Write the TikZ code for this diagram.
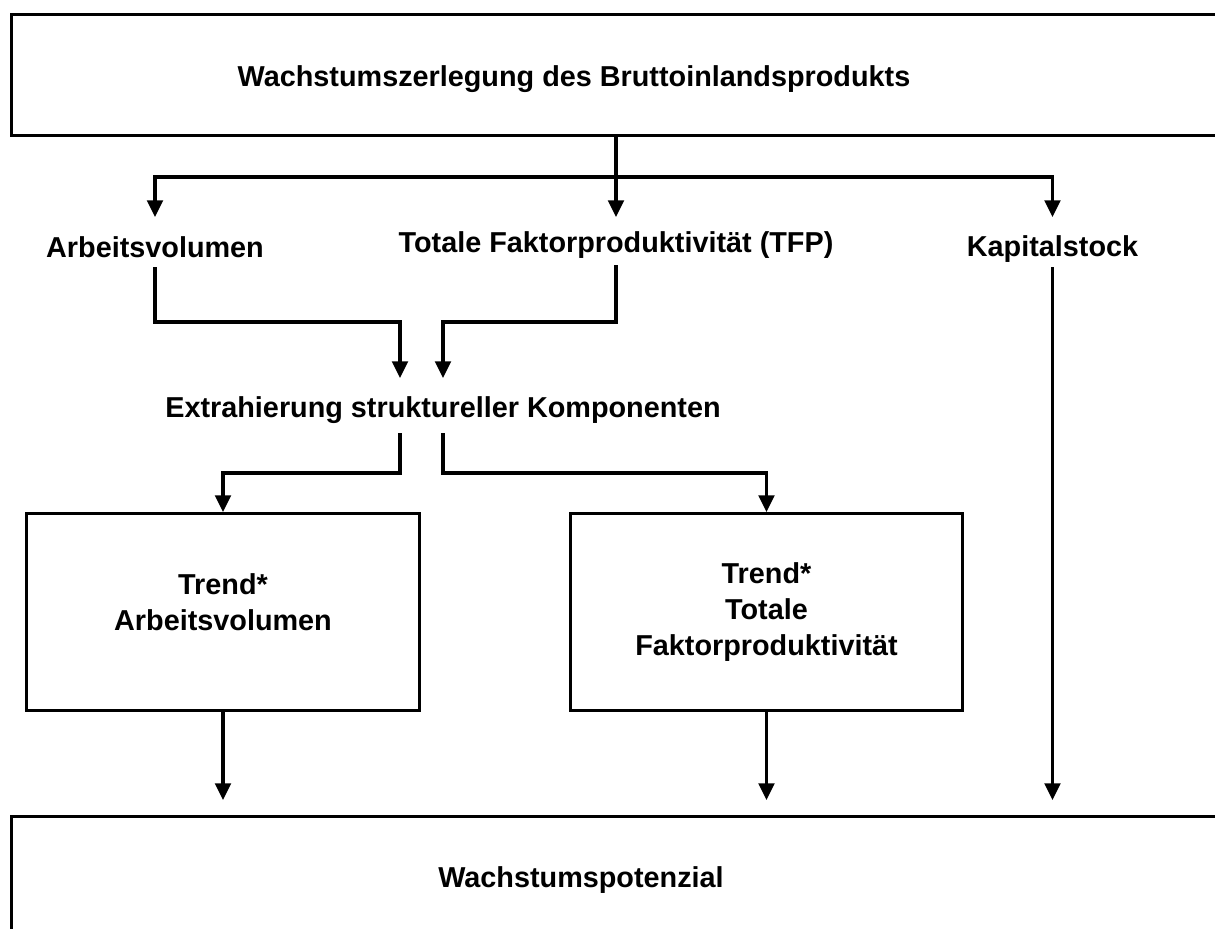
\documentclass[tikz,border=0pt]{standalone}
\usepackage{fontspec}
\setmainfont{Liberation Sans}
\usepackage{tikz}
\usetikzlibrary{arrows.meta, positioning, calc}

\begin{document}
\begin{tikzpicture}[
    x=0.5pt, y=-0.5pt,
    >={Triangle[length=8.3pt, width=7.8pt]},
    panel/.style={rectangle, draw=black, line width=1.5pt, anchor=north west,
                  align=center, font=\bfseries\fontsize{14.4}{18}\selectfont},
    factor/.style={anchor=base, inner sep=0pt, align=center,
                   font=\bfseries\fontsize{14.4}{18}\selectfont},
    flow/.style={->, line width=1.6pt}
]
\useasboundingbox (0,0) rectangle (1215,928);
\clip (0,0) rectangle (1215,928);
% boxes
\node[panel, minimum width=615pt, minimum height=60.5pt] (bip) at (10,13) {};
\node[factor] (biptext) at (574,86) {Wachstumszerlegung des Bruttoinlandsprodukts};
\node[panel, minimum width=196.5pt, minimum height=98.5pt, text depth=10pt] (trendav) at (25,512) {Trend*\\Arbeitsvolumen};
\node[panel, minimum width=196pt, minimum height=98.5pt] (trendtfp) at (569,512) {Trend*\\Totale\\Faktorproduktivit\"at};
\node[panel, minimum width=615pt, minimum height=100pt] (pot) at (10,815) {};
\node[factor] (pottext) at (581,887) {Wachstumspotenzial};
% factors
\node[factor] (arbeit) at (155,257) {Arbeitsvolumen};
\node[factor] (tfp) at (616,252) {Totale Faktorproduktivit\"at (TFP)};
\node[factor] (kapital) at (1052.5,256) {Kapitalstock};
\node[factor] (extra) at (443,417) {Extrahierung struktureller Komponenten};
% junctions
\coordinate (split) at (616,177);
\coordinate (mergeL) at (400,378);
\coordinate (mergeR) at (443,378);
\coordinate (forkL) at (400,433);
\coordinate (forkR) at (443,433);
\coordinate (capin) at (1052.5,800);
% connectors
\draw[flow] (bip.south -| tfp.base) -- ([yshift=17.5pt]tfp.base);
\draw[flow] (split) -| ([yshift=20pt]arbeit.base);
\draw[flow] (split) -| ([yshift=19.5pt]kapital.base);
\draw[flow] ([yshift=-5pt]arbeit.base) |- (mergeL |- 0,322) -- (mergeL);
\draw[flow] ([yshift=-6.5pt]tfp.base) |- (mergeR |- 0,322) -- (mergeR);
\draw[flow] (forkL) |- (trendav.north |- 0,473) -- (trendav.north);
\draw[flow] (forkR) |- (trendtfp.north |- 0,473) -- (trendtfp.north);
\draw[flow] (trendav.south) -- (trendav.south |- capin);
\draw[flow] (trendtfp.south) -- (trendtfp.south |- capin);
\draw[flow] ([yshift=-5.5pt]kapital.base) -- (capin);
\end{tikzpicture}
\end{document}
